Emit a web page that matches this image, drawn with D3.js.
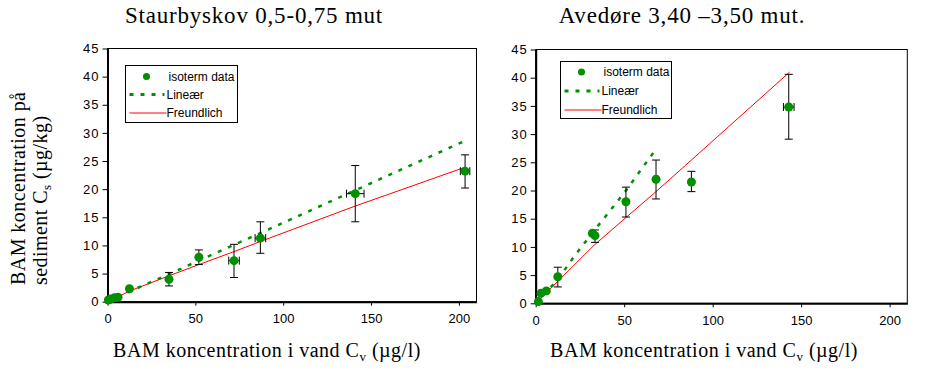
<!DOCTYPE html>
<html>
<head>
<meta charset="utf-8">
<script src="https://cdn.jsdelivr.net/npm/d3@7"></script>
<style>
  body { margin: 0; background: #fff; }
  svg { display: block; }
  .tick text { font-family: "Liberation Sans", Arial, sans-serif; font-size: 13px; fill: #000; }
  .serif { font-family: "Liberation Serif", "Times New Roman", serif; fill: #000; }
  .legend text { font-family: "Liberation Sans", Arial, sans-serif; font-size: 12px; }
</style>
</head>
<body>
<div id="chart"></div>
<script>
const width = 945, height = 373;
const green = "#009000";

const yTicks = [0, 5, 10, 15, 20, 25, 30, 35, 40, 45];
const xTicks = [0, 50, 100, 150, 200];

// Staurbyskov 0,5-0,75 mut
const leftCv  = [0.5, 2, 4, 6, 12.5, 35, 52, 72, 87, 141, 203.5];
const leftCs  = [0.3, 0.5, 0.7, 0.8, 2.3, 4.0, 7.9, 7.3, 11.3, 19.2, 23.2];
const leftCsLo = [null, null, null, null, null, 2.8, 6.6, 4.3, 8.6, 14.2, 20.2];
const leftCsHi = [null, null, null, null, null, 5.2, 9.2, 10.2, 14.2, 24.2, 26.1];
const leftCvErr = [0, 0, 0, 0, 0, 0, 0, 3, 3, 5, 2.7];
const leftLinX = [0, 12.5, 35, 52, 72, 87, 141, 203.5];
const leftLinY = [0, 1.8, 4.9, 7.3, 10.1, 12.2, 19.8, 28.6];
const leftFreX = [0, 5, 12.5, 35, 52, 72, 87, 141, 203.5];
const leftFreY = [0, 0.7, 1.9, 4.6, 6.6, 8.9, 10.7, 17.0, 23.9];

// Avedøre 3,40 -3,50 mut.
const rightCv  = [1.5, 3, 6, 12.5, 32, 33.5, 51, 68, 88, 143];
const rightCs  = [0.3, 1.8, 2.2, 4.7, 12.4, 12.0, 18.0, 22.0, 21.5, 34.8];
const rightCsLo = [null, null, null, 2.9, null, 10.8, 15.3, 18.5, 19.8, 29.1];
const rightCsHi = [null, null, null, 6.4, null, 13.0, 20.6, 25.4, 23.4, 40.6];
const rightCvErr = [0, 0, 0, 0, 0, 0, 0, 0, 0, 3];
const rightLinX = [0, 12.5, 21, 33, 41.5, 51, 66.5];
const rightLinY = [0, 4.2, 8.0, 12.9, 16.2, 20.0, 26.7];
const rightFreX = [0, 12.5, 33, 51, 68, 88, 143.5];
const rightFreY = [0, 3.9, 10.3, 15.2, 19.8, 25.4, 41.0];

const svg = d3.select("#chart").append("svg")
  .attr("width", width)
  .attr("height", height);

function drawPanel(p) {
  const x = d3.scaleLinear().domain([0, 210]).range([p.left, p.right]);
  const y = d3.scaleLinear().domain([0, 45]).range([p.bottom, p.top]);
  const g = svg.append("g");

  // frame
  g.append("rect")
    .attr("x", p.left).attr("y", p.top)
    .attr("width", p.right - p.left).attr("height", p.bottom - p.top)
    .attr("fill", "none").attr("stroke", "#000").attr("stroke-width", 1);

  const ax = g.append("g")
    .attr("transform", `translate(0,${p.bottom})`)
    .call(d3.axisBottom(x).tickValues(xTicks).tickSize(4).tickSizeOuter(0).tickPadding(8));
  const ay = g.append("g")
    .attr("transform", `translate(${p.left},0)`)
    .call(d3.axisLeft(y).tickValues(yTicks).tickSize(5).tickSizeOuter(0).tickPadding(3));
  [ax, ay].forEach(a => {
    a.select(".domain").attr("stroke-width", 2);
    a.selectAll(".tick line").attr("stroke-width", 1);
  });
  ay.selectAll(".tick text").attr("letter-spacing", "1px");

  const pts = p.cv.map((v, i) => ({ cv: v, cs: p.cs[i], lo: p.lo[i], hi: p.hi[i], xe: p.xe[i] }));

  // fit lines
  const line = d3.line().x(d => x(d[0])).y(d => y(d[1]));
  g.append("path")
    .datum(p.freX.map((v, i) => [v, p.freY[i]]))
    .attr("d", line).attr("fill", "none").attr("stroke", "red").attr("stroke-width", 1);
  g.append("path")
    .datum(p.linX.map((v, i) => [v, p.linY[i]]))
    .attr("d", line).attr("fill", "none").attr("stroke", green)
    .attr("stroke-width", 2.5).attr("stroke-dasharray", "4,7");

  // error bars
  const eb = g.append("g").attr("stroke", "#000").attr("stroke-width", 1);
  pts.filter(d => d.lo != null).forEach(d => {
    const cx = x(d.cv);
    eb.append("line").attr("x1", cx).attr("x2", cx).attr("y1", y(d.lo)).attr("y2", y(d.hi));
    eb.append("line").attr("x1", cx - 4).attr("x2", cx + 4).attr("y1", y(d.lo)).attr("y2", y(d.lo));
    eb.append("line").attr("x1", cx - 4).attr("x2", cx + 4).attr("y1", y(d.hi)).attr("y2", y(d.hi));
  });
  pts.filter(d => d.xe > 0).forEach(d => {
    const cy = y(d.cs);
    eb.append("line").attr("x1", x(d.cv - d.xe)).attr("x2", x(d.cv + d.xe)).attr("y1", cy).attr("y2", cy);
    eb.append("line").attr("x1", x(d.cv - d.xe)).attr("x2", x(d.cv - d.xe)).attr("y1", cy - 4).attr("y2", cy + 4);
    eb.append("line").attr("x1", x(d.cv + d.xe)).attr("x2", x(d.cv + d.xe)).attr("y1", cy - 4).attr("y2", cy + 4);
  });

  g.selectAll(".pt").data(pts).join("circle")
    .attr("class", "pt")
    .attr("cx", d => x(d.cv)).attr("cy", d => y(d.cs))
    .attr("r", 4.5).attr("fill", green);

  // legend
  const lg = g.append("g").attr("class", "legend");
  const L = p.legend;
  lg.append("rect").attr("x", L.x).attr("y", L.y).attr("width", L.w).attr("height", L.h)
    .attr("fill", "#fff").attr("stroke", "#000").attr("stroke-width", 1);
  lg.append("circle").attr("cx", L.x + 21).attr("cy", L.y + L.rows[0]).attr("r", 3.5).attr("fill", green);
  lg.append("line").attr("x1", L.x + 4).attr("x2", L.x + 39)
    .attr("y1", L.y + L.rows[1]).attr("y2", L.y + L.rows[1])
    .attr("stroke", green).attr("stroke-width", 3).attr("stroke-dasharray", "4,7");
  lg.append("line").attr("x1", L.x + 4).attr("x2", L.x + 41)
    .attr("y1", L.y + L.rows[2]).attr("y2", L.y + L.rows[2])
    .attr("stroke", "red").attr("stroke-width", 1);
  const names = ["isoterm data", "Lineær", "Freundlich"];
  names.forEach((n, i) => {
    lg.append("text").attr("x", L.x + (i === 0 ? 43 : 41)).attr("y", L.y + L.rows[i] + 4).text(n);
  });

  // titles
  svg.append("text").attr("class", "serif")
    .attr("x", p.titleX).attr("y", 23).attr("text-anchor", "middle")
    .attr("font-size", 23).attr("letter-spacing", "0.8px").text(p.title);

  const xt = svg.append("text").attr("class", "serif")
    .attr("x", p.xTitleX).attr("y", 357).attr("text-anchor", "middle")
    .attr("font-size", 20).attr("letter-spacing", "0.5px");
  xt.append("tspan").text("BAM koncentration i vand C");
  xt.append("tspan").attr("font-size", 13).attr("dy", 4).text("v");
  xt.append("tspan").attr("dy", -4).text(" (µg/l)");
}

drawPanel({
  left: 107.5, right: 476.5, top: 48.5, bottom: 301.7,
  cv: leftCv, cs: leftCs, lo: leftCsLo, hi: leftCsHi, xe: leftCvErr,
  linX: leftLinX, linY: leftLinY, freX: leftFreX, freY: leftFreY,
  legend: { x: 125.5, y: 65.5, w: 112, h: 57, rows: [11, 29, 47.5] },
  title: "Staurbyskov 0,5-0,75 mut", titleX: 254, xTitleX: 267
});

drawPanel({
  left: 535.7, right: 907.3, top: 49.5, bottom: 303.3,
  cv: rightCv, cs: rightCs, lo: rightCsLo, hi: rightCsHi, xe: rightCvErr,
  linX: rightLinX, linY: rightLinY, freX: rightFreX, freY: rightFreY,
  legend: { x: 560.5, y: 61.5, w: 111, h: 57, rows: [10.5, 29.5, 48.5] },
  title: "Avedøre 3,40 –3,50 mut.", titleX: 682, xTitleX: 704
});

// y axis title (left panel only)
const yt = svg.append("g").attr("transform", "translate(0,285) rotate(-90)");
yt.append("text").attr("class", "serif").attr("x", 0).attr("y", 25).attr("font-size", 20)
  .attr("letter-spacing", "0.45px").text("BAM koncentration på");
const yt2 = yt.append("text").attr("class", "serif").attr("x", 0).attr("y", 47)
  .attr("font-size", 20).attr("letter-spacing", "0.45px");
yt2.append("tspan").text("sediment C");
yt2.append("tspan").attr("font-size", 13).attr("dy", 4).text("s");
yt2.append("tspan").attr("dy", -4).text("  (µg/kg)");
</script>
</body>
</html>
